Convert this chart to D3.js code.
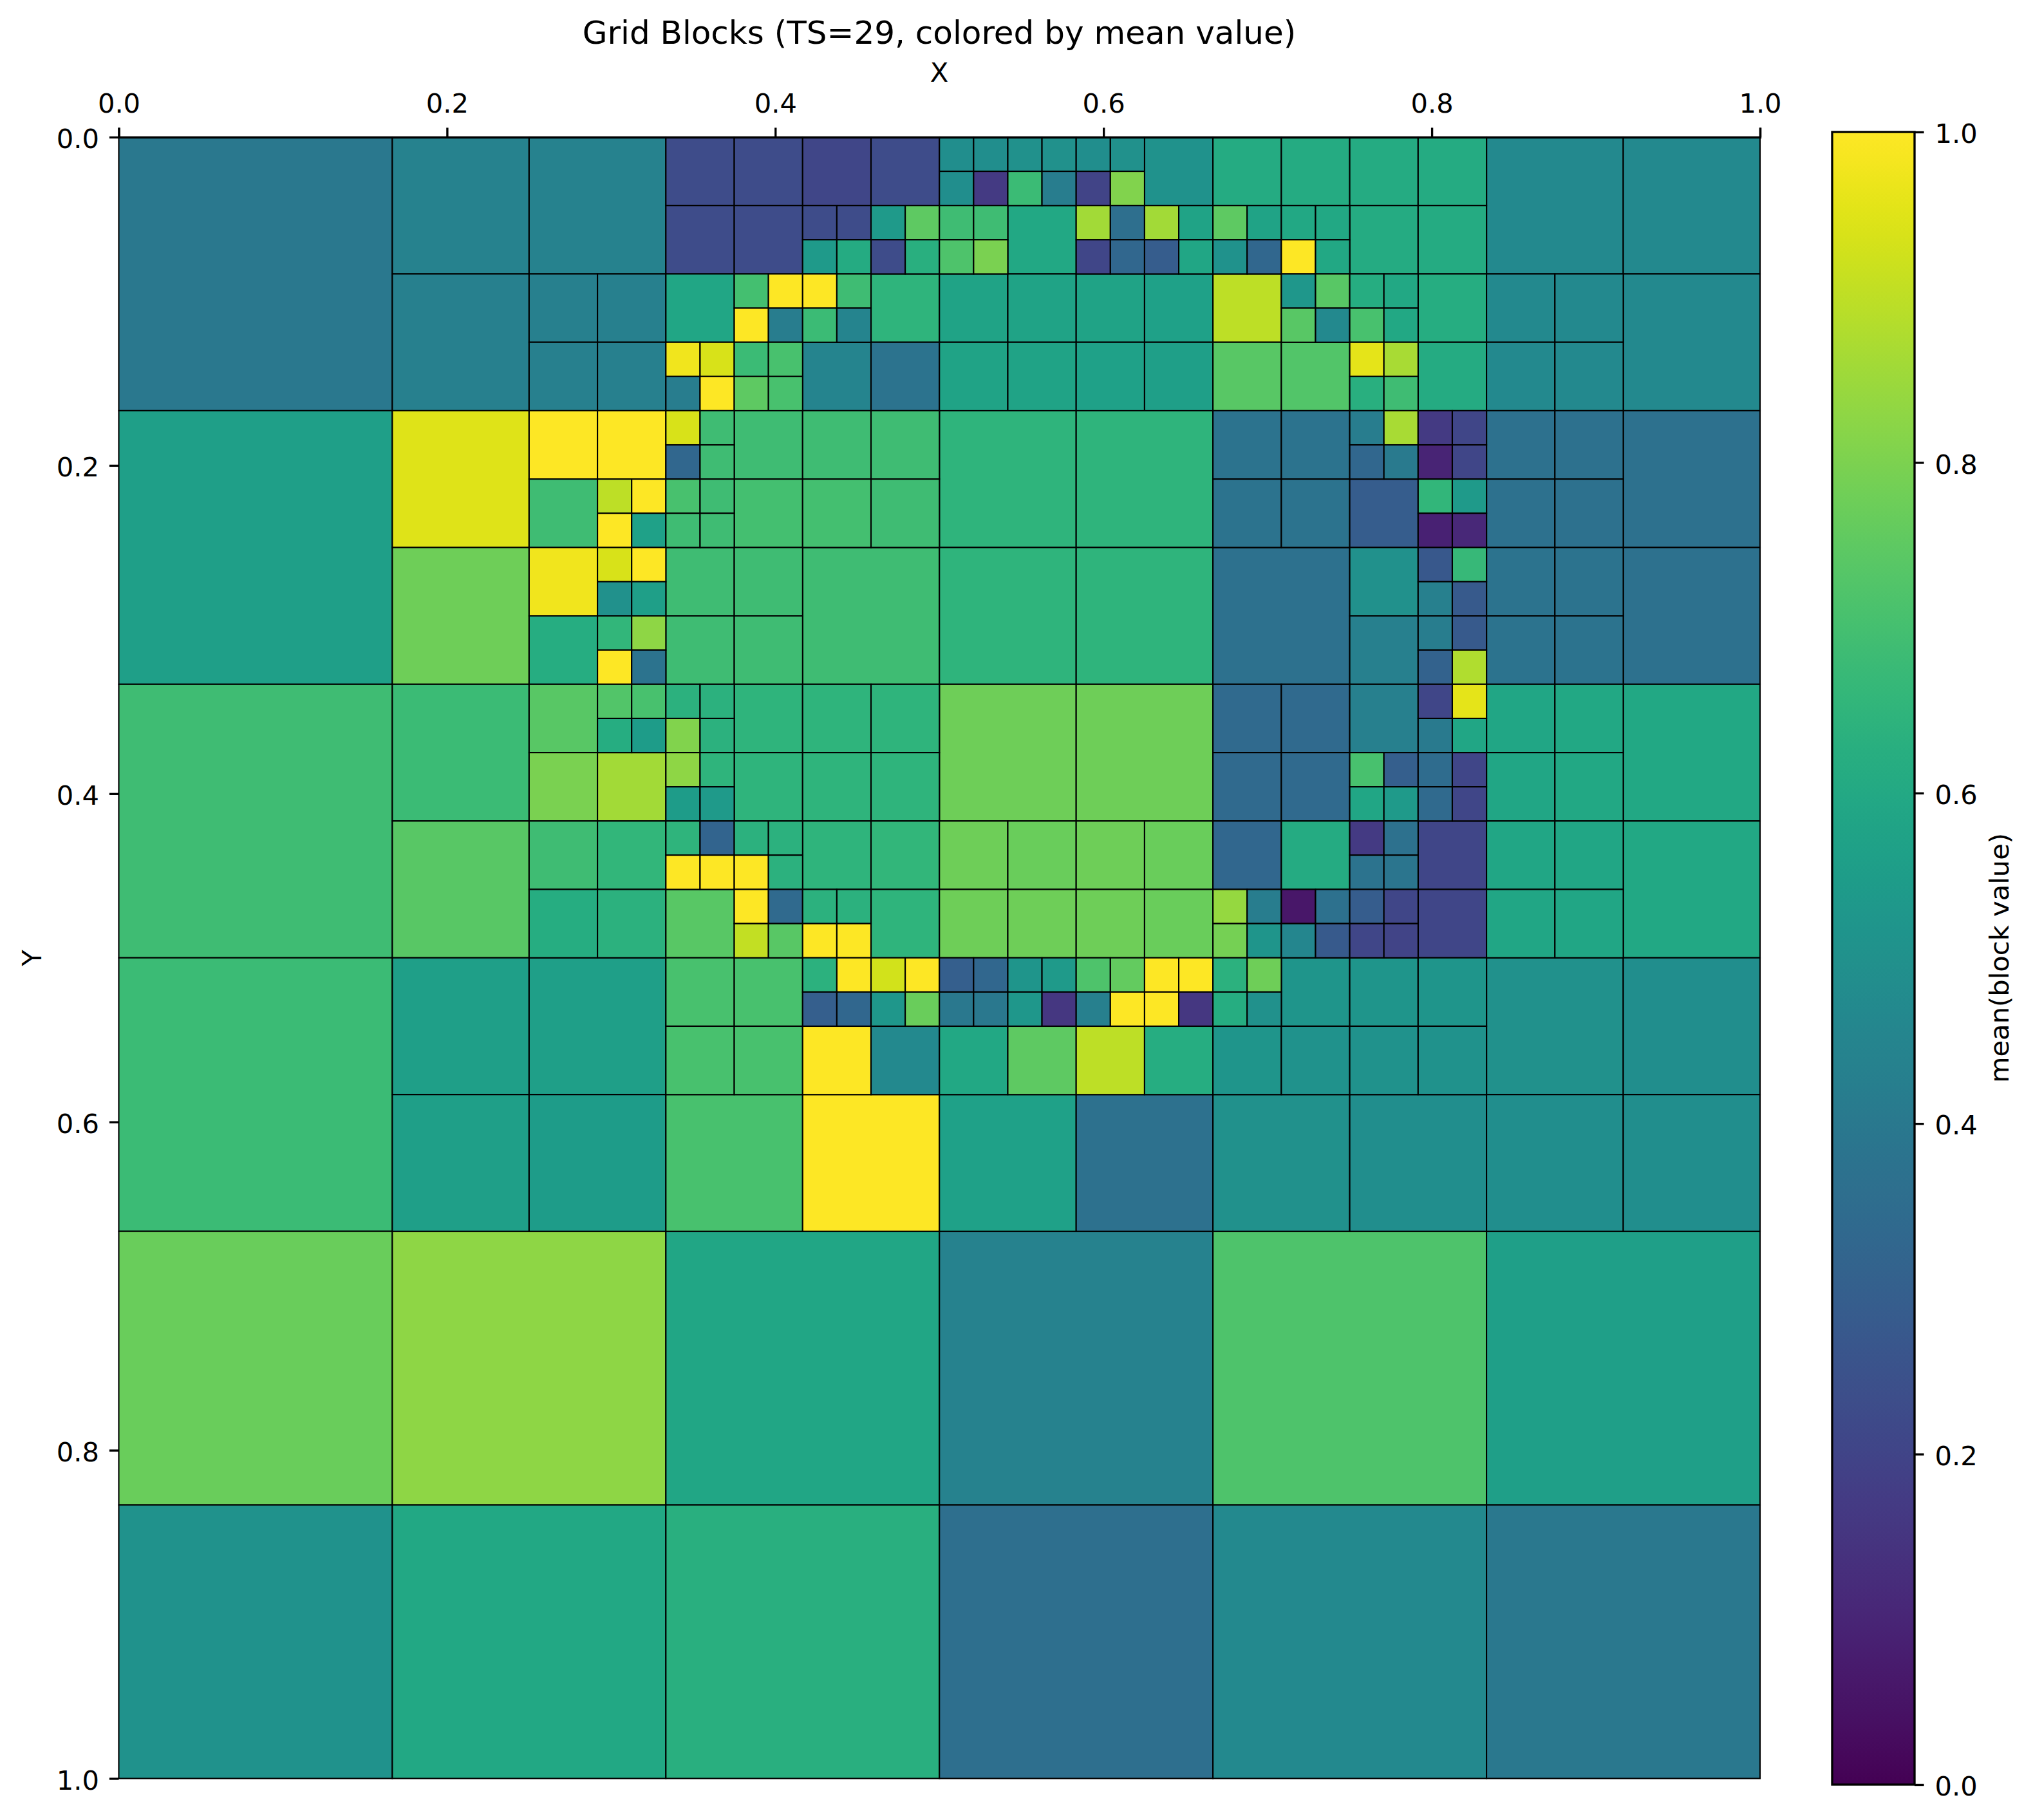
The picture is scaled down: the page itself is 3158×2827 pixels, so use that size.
<!DOCTYPE html>
<html>
<head>
<meta charset="utf-8">
<title>Grid Blocks</title>
<script src="https://cdn.jsdelivr.net/npm/d3@7"></script>
<style>
html, body { margin: 0; padding: 0; background: #fff; }
svg { display: block; }
text { font-family: "DejaVu Sans", sans-serif; fill: #000; }
</style>
</head>
<body>
<div id="container"></div>
<script>
'use strict';

// each block is [col, row, mean] on the grid of its own refinement level
const level0Blocks = [
    [0,0,.40],[0,1,.56],[0,2,.69],[0,3,.68],[0,4,.77],[1,4,.83],[2,4,.59],[3,4,.44],[4,4,.72],[5,4,.56],
    [0,5,.51],[1,5,.60],[2,5,.63],[3,5,.36],[4,5,.47],[5,5,.40]
];
const level1Blocks = [
    [2,0,.44],[2,1,.43],[3,0,.44],[10,0,.47],[11,0,.47],[11,1,.47],
    [2,2,.95],[2,3,.78],[6,2,.65],[7,2,.65],[5,3,.69],[6,3,.65],[7,3,.65],[8,3,.37],[11,2,.37],[11,3,.37],
    [2,4,.68],[2,5,.74],[6,4,.78],[7,4,.78],[11,4,.60],[11,5,.60],
    [2,6,.56],[3,6,.56],[10,6,.50],[11,6,.49],
    [2,7,.56],[3,7,.55],[4,7,.71],[5,7,1],[6,7,.57],[7,7,.37],[8,7,.50],[9,7,.49],[10,7,.49],[11,7,.49]
];
const level2Blocks = [
    [8,0,.23],[9,0,.23],[10,0,.21],[11,0,.23],[15,0,.51],[16,0,.61],[17,0,.61],[18,0,.61],[19,0,.61],
    [8,1,.23],[9,1,.23],[13,1,.60],[18,1,.61],[19,1,.61],
    [6,2,.43],[7,2,.43],[8,2,.59],[11,2,.65],[12,2,.58],[13,2,.58],[14,2,.58],[15,2,.57],[16,2,.90],[19,2,.62],[20,2,.47],[21,2,.47],
    [6,3,.43],[7,3,.43],[10,3,.45],[11,3,.38],[12,3,.58],[13,3,.58],[14,3,.57],[15,3,.56],[16,3,.74],[17,3,.73],[19,3,.61],[20,3,.47],[21,3,.47],
    [6,4,1],[7,4,1],[9,4,.69],[10,4,.69],[11,4,.69],[16,4,.38],[17,4,.38],[20,4,.37],[21,4,.37],
    [6,5,.69],[9,5,.70],[10,5,.70],[11,5,.69],[16,5,.38],[17,5,.38],[18,5,.29],[20,5,.37],[21,5,.37],
    [6,6,.98],[8,6,.69],[9,6,.69],[18,6,.50],[20,6,.38],[21,6,.38],
    [6,7,.62],[8,7,.69],[9,7,.69],[18,7,.43],[20,7,.38],[21,7,.38],
    [6,8,.74],[9,8,.65],[10,8,.65],[11,8,.65],[16,8,.34],[17,8,.34],[18,8,.43],[20,8,.59],[21,8,.60],
    [6,9,.80],[7,9,.86],[9,9,.65],[10,9,.65],[11,9,.65],[16,9,.34],[17,9,.34],[20,9,.59],[21,9,.60],
    [6,10,.69],[7,10,.66],[10,10,.65],[11,10,.66],[12,10,.78],[13,10,.77],[14,10,.78],[15,10,.77],[16,10,.33],[17,10,.61],[19,10,.21],[20,10,.59],[21,10,.59],
    [6,11,.62],[7,11,.64],[8,11,.74],[11,11,.65],[12,11,.78],[13,11,.78],[14,11,.78],[15,11,.77],[19,11,.21],[20,11,.59],[21,11,.59],
    [8,12,.71],[9,12,.71],[17,12,.52],[18,12,.52],[19,12,.52],
    [8,13,.71],[9,13,.71],[10,13,1],[11,13,.47],[12,13,.60],[13,13,.75],[14,13,.90],[15,13,.62],[16,13,.52],[17,13,.51],[18,13,.51],[19,13,.51]
];
const level3Blocks = [
    [24,0,.49],[25,0,.49],[26,0,.50],[27,0,.50],[28,0,.49],[29,0,.50],
    [24,1,.49],[25,1,.17],[26,1,.68],[27,1,.42],[28,1,.20],[29,1,.81],
    [20,2,.23],[21,2,.23],[22,2,.54],[23,2,.75],[24,2,.69],[25,2,.69],[28,2,.86],[29,2,.36],[30,2,.86],[31,2,.58],[32,2,.75],[33,2,.58],[34,2,.60],[35,2,.60],
    [20,3,.54],[21,3,.61],[22,3,.23],[23,3,.63],[24,3,.72],[25,3,.80],[28,3,.21],[29,3,.33],[30,3,.29],[31,3,.59],[32,3,.51],[33,3,.33],[34,3,1],[35,3,.60],
    [18,4,.70],[19,4,1],[20,4,1],[21,4,.69],[34,4,.53],[35,4,.74],[36,4,.62],[37,4,.60],
    [18,5,1],[19,5,.42],[20,5,.68],[21,5,.45],[34,5,.74],[35,5,.47],[36,5,.71],[37,5,.60],
    [16,6,.98],[17,6,.94],[18,6,.68],[19,6,.71],[36,6,.96],[37,6,.87],
    [16,7,.42],[17,7,1],[18,7,.75],[19,7,.71],[36,7,.63],[37,7,.69],
    [16,8,.94],[17,8,.69],[36,8,.42],[37,8,.87],[38,8,.17],[39,8,.21],
    [16,9,.33],[17,9,.69],[36,9,.33],[37,9,.41],[38,9,.10],[39,9,.21],
    [14,10,.90],[15,10,1],[16,10,.71],[17,10,.69],[38,10,.66],[39,10,.54],
    [14,11,1],[15,11,.57],[16,11,.69],[17,11,.69],[38,11,.09],[39,11,.11],
    [14,12,.94],[15,12,1],[38,12,.27],[39,12,.67],
    [14,13,.50],[15,13,.56],[38,13,.43],[39,13,.28],
    [14,14,.66],[15,14,.83],[38,14,.42],[39,14,.28],
    [14,15,1],[15,15,.38],[38,15,.31],[39,15,.88],
    [14,16,.73],[15,16,.71],[16,16,.64],[17,16,.64],[38,16,.21],[39,16,.96],
    [14,17,.62],[15,17,.55],[16,17,.81],[17,17,.64],[38,17,.41],[39,17,.59],
    [16,18,.83],[17,18,.65],[36,18,.71],[37,18,.30],[38,18,.35],[39,18,.21],
    [16,19,.55],[17,19,.54],[36,19,.59],[37,19,.54],[38,19,.34],[39,19,.21],
    [16,20,.65],[17,20,.32],[18,20,.64],[19,20,.64],[36,20,.17],[37,20,.37],
    [16,21,1],[17,21,1],[18,21,1],[19,21,.64],[36,21,.38],[37,21,.39],
    [18,22,1],[19,22,.34],[20,22,.64],[21,22,.64],[32,22,.84],[33,22,.42],[34,22,.06],[35,22,.37],[36,22,.29],[37,22,.21],
    [18,23,.91],[19,23,.74],[20,23,1],[21,23,1],[32,23,.79],[33,23,.52],[34,23,.46],[35,23,.28],[36,23,.21],[37,23,.20],
    [20,24,.64],[21,24,1],[22,24,.93],[23,24,1],[24,24,.30],[25,24,.33],[26,24,.52],[27,24,.54],[28,24,.72],[29,24,.76],[30,24,1],[31,24,1],[32,24,.64],[33,24,.78],
    [20,25,.30],[21,25,.33],[22,25,.53],[23,25,.77],[24,25,.40],[25,25,.40],[26,25,.53],[27,25,.16],[28,25,.43],[29,25,1],[30,25,1],[31,25,.16],[32,25,.62],[33,25,.50]
];
const levelCells = [6, 12, 24, 48];
const axisTicks = [0, 0.2, 0.4, 0.6, 0.8, 1];
const colorbarTicks = [0, 0.2, 0.4, 0.6, 0.8, 1];

const w = 3158;
const h = 2827;
const plotLeft = 184.5;
const plotRight = 2734;
const plotTop = 213;
const plotBottom = 2762.5;
const tickFont = 41.67;

const svg = d3.select('#container')
    .append('svg')
    .attr('width', w)
    .attr('height', h)
    .attr('viewBox', '0 0 ' + w + ' ' + h);

svg.append('rect').attr('width', w).attr('height', h).attr('fill', '#fff');

const xScale = d3.scaleLinear().domain([0, 1]).range([plotLeft, plotRight]);
const yScale = d3.scaleLinear().domain([0, 1]).range([plotTop, plotBottom]);
const color = d3.scaleSequential(d3.interpolateViridis).domain([0, 1]);

const blocks = [level0Blocks, level1Blocks, level2Blocks, level3Blocks].flatMap((list, level) =>
    list.map((b) => ({ level: level, col: b[0], row: b[1], mean: b[2] })));

svg.append('g')
    .attr('id', 'blocks')
    .selectAll('rect')
    .data(blocks)
    .enter()
    .append('rect')
    .attr('x', (d) => xScale(d.col / levelCells[d.level]))
    .attr('y', (d) => yScale(d.row / levelCells[d.level]))
    .attr('width', (d) => xScale(1 / levelCells[d.level]) - xScale(0))
    .attr('height', (d) => yScale(1 / levelCells[d.level]) - yScale(0))
    .attr('fill', (d) => color(d.mean))
    .attr('stroke', '#000')
    .attr('stroke-width', 2.08);

const styleAxis = (g) => {
    g.selectAll('text').attr('font-size', tickFont).attr('font-family', '"DejaVu Sans"');
    g.selectAll('line').attr('stroke', '#000').attr('stroke-width', 3.33);
    g.select('.domain').attr('stroke', '#000').attr('stroke-width', 3.33);
};

const xAxis = d3.axisTop(xScale)
    .tickValues(axisTicks)
    .tickFormat(d3.format('.1f'))
    .tickSizeOuter(0)
    .tickSize(14.6)
    .tickPadding(23);
const yAxis = d3.axisLeft(yScale)
    .tickValues(axisTicks)
    .tickFormat(d3.format('.1f'))
    .tickSizeOuter(0)
    .tickSize(14.6)
    .tickPadding(16);

svg.append('g')
    .attr('id', 'x-axis')
    .attr('transform', 'translate(0, ' + plotTop + ')')
    .call(xAxis)
    .call(styleAxis);
svg.append('g')
    .attr('id', 'y-axis')
    .attr('transform', 'translate(' + plotLeft + ', 0)')
    .call(yAxis)
    .call(styleAxis)
    .call((g) => g.select('.domain').remove());
d3.select('#y-axis').selectAll('text').attr('dy', '0.4em');

// colorbar
const barLeft = 2846;
const barRight = 2974;
const barTop = 205;
const barBottom = 2772;
const barScale = d3.scaleLinear().domain([0, 1]).range([barBottom, barTop]);

const gradient = svg.append('defs')
    .append('linearGradient')
    .attr('id', 'viridis')
    .attr('x1', 0).attr('x2', 0).attr('y1', 1).attr('y2', 0);
gradient.selectAll('stop')
    .data(d3.range(0, 1.0001, 1 / 64))
    .enter()
    .append('stop')
    .attr('offset', (d) => d)
    .attr('stop-color', (d) => color(d));

svg.append('rect')
    .attr('x', barLeft)
    .attr('y', barTop)
    .attr('width', barRight - barLeft)
    .attr('height', barBottom - barTop)
    .attr('fill', 'url(#viridis)')
    .attr('stroke', '#000')
    .attr('stroke-width', 3.33);

svg.append('g')
    .attr('id', 'colorbar-axis')
    .attr('transform', 'translate(' + barRight + ', 0)')
    .call(d3.axisRight(barScale)
        .tickValues(colorbarTicks)
        .tickFormat(d3.format('.1f'))
        .tickSizeOuter(0)
        .tickSize(14.6)
        .tickPadding(17))
    .call(styleAxis)
    .call((g) => g.select('.domain').remove());
d3.select('#colorbar-axis').selectAll('text').attr('dy', '0.4em');

// titles and labels
svg.append('text')
    .text('Grid Blocks (TS=29, colored by mean value)')
    .attr('text-anchor', 'middle')
    .attr('font-size', 50)
    .attr('x', 1459)
    .attr('y', 68);
svg.append('text')
    .text('X')
    .attr('text-anchor', 'middle')
    .attr('font-size', tickFont)
    .attr('x', 1459)
    .attr('y', 127);
svg.append('text')
    .text('Y')
    .attr('text-anchor', 'middle')
    .attr('font-size', tickFont)
    .attr('transform', 'translate(64, 1488) rotate(-90)');
svg.append('text')
    .text('mean(block value)')
    .attr('text-anchor', 'middle')
    .attr('font-size', tickFont)
    .attr('transform', 'translate(3120, 1488) rotate(-90)');
</script>
</body>
</html>
